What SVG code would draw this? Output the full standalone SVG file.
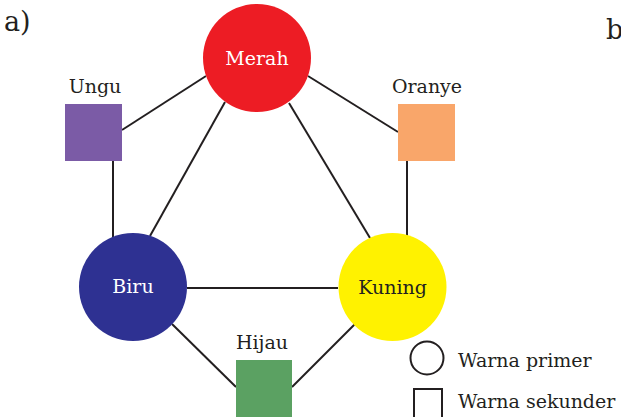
<svg xmlns="http://www.w3.org/2000/svg" width="621" height="417" viewBox="0 0 621 417">
<style>
text{font-family:"DejaVu Serif","Liberation Serif",serif;font-size:19px;fill:#231F20}
.c{text-anchor:middle}
.w{fill:#ffffff}
.ln{stroke:#231F20;stroke-width:2;fill:none}
</style>
<rect width="621" height="417" fill="#ffffff"/>
<text x="4" y="31" style="font-size:27px">a)</text>
<text x="606" y="39" style="font-size:27px">b</text>
<g id="connectors" class="ln">
<line x1="122" y1="130" x2="206" y2="76"/>
<line x1="398" y1="132" x2="308" y2="76"/>
<line x1="113" y1="161" x2="113" y2="238"/>
<line x1="407" y1="161" x2="407" y2="238"/>
<line x1="225" y1="102" x2="150" y2="236"/>
<line x1="289" y1="103" x2="370" y2="238"/>
<line x1="187" y1="288" x2="338" y2="288"/>
<line x1="172" y1="324" x2="236" y2="387"/>
<line x1="355" y1="324" x2="292" y2="387"/>
</g>
<g id="merah"><circle cx="257" cy="58" r="54" fill="#ED1C24"/><text x="257" y="65" class="c w">Merah</text></g>
<g id="biru"><circle cx="133" cy="287" r="54" fill="#2E3192"/><text x="133" y="293" class="c w">Biru</text></g>
<g id="kuning"><circle cx="392.5" cy="287" r="54" fill="#FFF200"/><text x="392.5" y="294" class="c">Kuning</text></g>
<g id="ungu"><rect x="65" y="104" width="57" height="57" fill="#7B5BA6"/><text x="95" y="93" class="c">Ungu</text></g>
<g id="oranye"><rect x="398" y="104" width="57" height="57" fill="#F9A66A"/><text x="427" y="93" class="c">Oranye</text></g>
<g id="hijau"><rect x="236" y="360" width="56" height="60" fill="#5BA162"/><text x="262" y="349" class="c">Hijau</text></g>
<g id="legend">
<circle cx="427" cy="358" r="16.5" fill="none" stroke="#231F20" stroke-width="2"/>
<text x="458" y="367">Warna primer</text>
<rect x="414" y="389" width="28" height="34" fill="none" stroke="#231F20" stroke-width="2"/>
<text x="458" y="408">Warna sekunder</text>
</g>
</svg>
